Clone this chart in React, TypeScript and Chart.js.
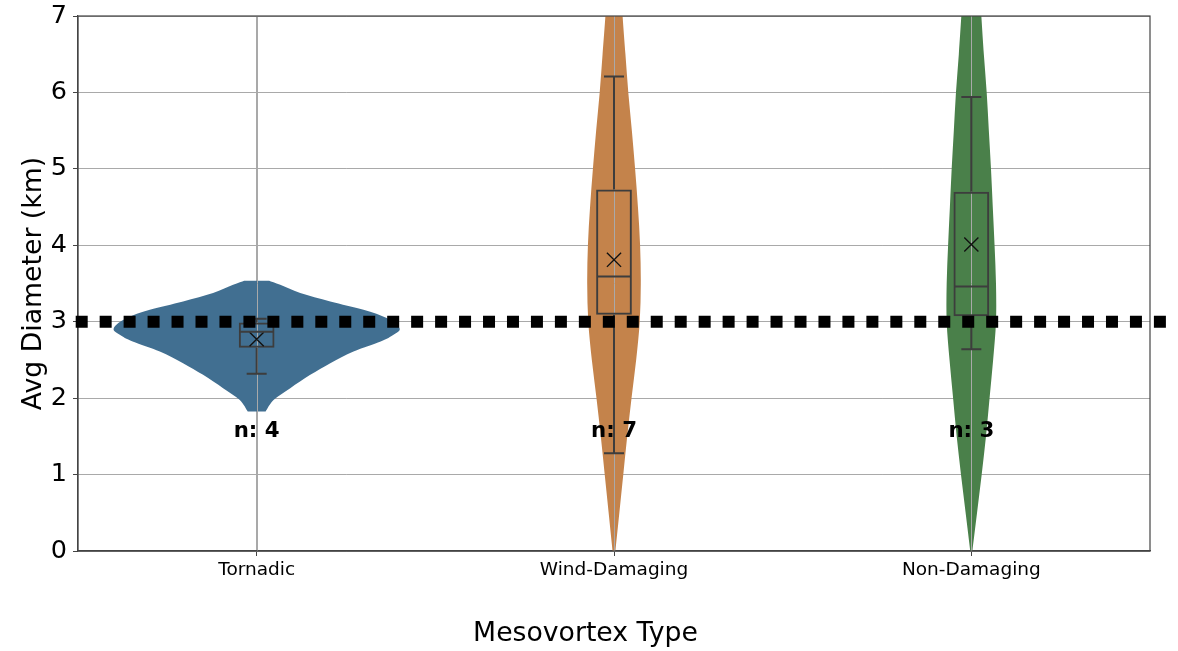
import React, { useEffect, useRef } from 'react';
import { Chart, registerables } from 'chart.js';

Chart.register(...registerables);

// ---------- data ----------
const categories = ['Tornadic', 'Wind-Damaging', 'Non-Damaging'];
const sampleCounts = [4, 7, 3];
const whiskerLow = [2.32, 1.28, 2.64];
const quartile1 = [2.66, 3.09, 3.07];
const medians = [2.87, 3.59, 3.46];
const quartile3 = [2.99, 4.73, 4.7];
const whiskerHigh = [3.04, 6.21, 5.94];
const means = [2.77, 3.81, 4.01];
const referenceValue = 3;
const countLabelValue = 1.49;
const yTickValues = [0, 1, 2, 3, 4, 5, 6, 7];
const xAxisTitle = 'Mesovortex Type';
const yAxisTitle = 'Avg Diameter (km)';

// violin outlines: value along y, half-width in category units
const tornadicProfileY = [1.824, 1.978, 2.131, 2.305, 2.458, 2.61, 2.741, 2.829, 2.916, 3.047, 3.156, 3.265, 3.375, 3.483, 3.536];
const tornadicProfileW = [0.025, 0.048, 0.094, 0.15, 0.206, 0.271, 0.347, 0.383, 0.4, 0.364, 0.299, 0.206, 0.122, 0.066, 0.035];
const windProfileY = [0, 0.5, 1, 1.5, 2, 2.5, 3, 3.5, 4, 4.5, 5, 5.5, 6, 6.5, 7, 7.3];
const windProfileW = [0.004, 0.015, 0.026, 0.037, 0.049, 0.062, 0.072, 0.075, 0.073, 0.067, 0.059, 0.05, 0.04, 0.032, 0.024, 0.02];
const nonDamProfileY = [0, 0.5, 1, 1.5, 2, 2.5, 3, 3.5, 4, 4.5, 5, 5.5, 6, 6.5, 7, 7.3];
const nonDamProfileW = [0.003, 0.016, 0.029, 0.041, 0.051, 0.061, 0.069, 0.069, 0.065, 0.06, 0.055, 0.049, 0.043, 0.035, 0.028, 0.024];

const violinProfilesY = [tornadicProfileY, windProfileY, nonDamProfileY];
const violinProfilesW = [tornadicProfileW, windProfileW, nonDamProfileW];
const violinColors = ['#416f91', '#c4834b', '#4a804a'];

const FONT = "'DejaVu Sans', 'Liberation Sans', sans-serif";
const BOX_COLOR = '#3d3d3d';
const SPINE_COLOR = '#444444';
const GRID_COLOR = '#a9a9a9';

type Pt = { x: number; y: number };

function curveThrough(ctx: CanvasRenderingContext2D, pts: Pt[]) {
  for (let k = 0; k < pts.length - 1; k++) {
    const p0 = pts[k - 1] || pts[k];
    const p1 = pts[k];
    const p2 = pts[k + 1];
    const p3 = pts[k + 2] || p2;
    ctx.bezierCurveTo(
      p1.x + (p2.x - p0.x) / 6,
      p1.y + (p2.y - p0.y) / 6,
      p2.x - (p3.x - p1.x) / 6,
      p2.y - (p3.y - p1.y) / 6,
      p2.x,
      p2.y
    );
  }
}

const violinPlugin = {
  id: 'violinPlugin',
  beforeDatasetsDraw(chart: any) {
    const { ctx, chartArea, scales } = chart;
    const xs = scales.x;
    const ys = scales.y;
    const unit = xs.getPixelForValue(1) - xs.getPixelForValue(0);
    ctx.save();
    ctx.beginPath();
    ctx.rect(chartArea.left, chartArea.top, chartArea.right - chartArea.left, chartArea.bottom - chartArea.top);
    ctx.clip();
    categories.forEach((_, i) => {
      const cx = xs.getPixelForValue(i);
      const py = violinProfilesY[i];
      const pw = violinProfilesW[i];
      const right: Pt[] = py.map((v, k) => ({ x: cx + pw[k] * unit, y: ys.getPixelForValue(v) }));
      const left: Pt[] = py.map((v, k) => ({ x: cx - pw[k] * unit, y: ys.getPixelForValue(v) })).reverse();
      ctx.beginPath();
      ctx.moveTo(right[0].x, right[0].y);
      curveThrough(ctx, right);
      ctx.lineTo(left[0].x, left[0].y);
      curveThrough(ctx, left);
      ctx.closePath();
      ctx.fillStyle = violinColors[i];
      ctx.fill();
    });
    ctx.restore();

    // vertical grid lines visible over violins
    ctx.save();
    ctx.strokeStyle = GRID_COLOR;
    ctx.lineWidth = 1;
    categories.forEach((_, i) => {
      const cx = Math.round(xs.getPixelForValue(i)) + 0.5;
      ctx.beginPath();
      ctx.moveTo(cx, chartArea.top);
      ctx.lineTo(cx, chartArea.bottom);
      ctx.stroke();
    });
    ctx.restore();

    // frame
    ctx.save();
    ctx.strokeStyle = SPINE_COLOR;
    ctx.lineWidth = 1.2;
    ctx.strokeRect(chartArea.left, chartArea.top, chartArea.right - chartArea.left, chartArea.bottom - chartArea.top);
    ctx.restore();
  },
  afterDatasetsDraw(chart: any) {
    const { ctx, chartArea, scales } = chart;
    const xs = scales.x;
    const ys = scales.y;
    const unit = xs.getPixelForValue(1) - xs.getPixelForValue(0);
    const capHalf = 0.028 * unit;
    const boxHalf = 0.05 * unit;
    ctx.save();
    ctx.strokeStyle = BOX_COLOR;
    ctx.lineWidth = 2;
    categories.forEach((_, i) => {
      const cx = xs.getPixelForValue(i);
      const yLow = ys.getPixelForValue(whiskerLow[i]);
      const yQ1 = ys.getPixelForValue(quartile1[i]);
      const yQ3 = ys.getPixelForValue(quartile3[i]);
      const yHigh = ys.getPixelForValue(whiskerHigh[i]);
      const yMed = ys.getPixelForValue(medians[i]);
      ctx.beginPath();
      ctx.moveTo(cx, yQ3);
      ctx.lineTo(cx, yHigh);
      ctx.moveTo(cx - capHalf, yHigh);
      ctx.lineTo(cx + capHalf, yHigh);
      ctx.moveTo(cx, yQ1);
      ctx.lineTo(cx, yLow);
      ctx.moveTo(cx - capHalf, yLow);
      ctx.lineTo(cx + capHalf, yLow);
      ctx.moveTo(cx - boxHalf + 1, yMed);
      ctx.lineTo(cx + boxHalf - 1, yMed);
      ctx.stroke();
    });
    ctx.restore();

    // count labels
    ctx.save();
    ctx.fillStyle = '#000';
    ctx.font = `bold 21.3px ${FONT}`;
    ctx.textAlign = 'center';
    ctx.textBaseline = 'alphabetic';
    categories.forEach((_, i) => {
      ctx.fillText(`n: ${sampleCounts[i]}`, xs.getPixelForValue(i), ys.getPixelForValue(countLabelValue));
    });
    ctx.restore();

    // reference dotted line
    const yRef = ys.getPixelForValue(referenceValue);
    ctx.save();
    ctx.strokeStyle = '#000';
    ctx.lineWidth = 12;
    ctx.lineCap = 'butt';
    ctx.setLineDash([12, 11.96]);
    ctx.beginPath();
    ctx.moveTo(chartArea.left - 2.3, yRef);
    ctx.lineTo(chartArea.right + 16.5, yRef);
    ctx.stroke();
    ctx.restore();
  },
  afterDraw(chart: any) {
    // figure-centred x axis title
    const { ctx } = chart;
    ctx.save();
    ctx.fillStyle = '#000';
    ctx.font = `26.7px ${FONT}`;
    ctx.textAlign = 'center';
    ctx.textBaseline = 'middle';
    ctx.fillText(xAxisTitle, chart.width / 2 - 3.5, chart.height - 17);
    ctx.restore();
  },
};

export default function App() {
  const canvasRef = useRef<HTMLCanvasElement | null>(null);

  useEffect(() => {
    if (!canvasRef.current) return;
    const chart = new Chart(canvasRef.current, {
      type: 'bar',
      data: {
        labels: categories,
        datasets: [
          {
            type: 'line',
            label: 'Mean',
            data: means,
            showLine: false,
            pointStyle: 'crossRot',
            pointRadius: 10,
            pointBorderColor: '#111',
            pointBorderWidth: 1.4,
            pointBackgroundColor: 'transparent',
          } as any,
          {
            type: 'bar',
            label: 'IQR',
            data: quartile1.map((q, i) => [q, quartile3[i]]),
            backgroundColor: 'rgba(0,0,0,0)',
            borderColor: BOX_COLOR,
            borderWidth: 2,
            borderSkipped: false,
            categoryPercentage: 1,
            barPercentage: 0.1,
          } as any,
        ],
      },
      options: {
        responsive: false,
        animation: false,
        events: [],
        layout: { padding: { top: 16, right: 28, bottom: 0, left: 0 } },
        plugins: {
          legend: { display: false },
          tooltip: { enabled: false },
        },
        scales: {
          x: {
            type: 'category',
            offset: true,
            grid: {
              offset: false,
              color: GRID_COLOR,
              lineWidth: 1,
              drawTicks: true,
              tickLength: 5,
              tickColor: SPINE_COLOR,
            },
            border: { display: true, color: SPINE_COLOR, width: 1.2 },
            ticks: { color: '#000', font: { family: FONT, size: 18.5 }, padding: 3 },
            title: { display: false },
            afterFit: (scale: any) => {
              scale.height = 100;
              scale.paddingLeft = 0;
              scale.paddingRight = 0;
            },
          },
          y: {
            type: 'linear',
            min: 0,
            max: 7,
            afterBuildTicks: (scale: any) => {
              scale.ticks = yTickValues.map((v) => ({ value: v }));
            },
            grid: {
              color: GRID_COLOR,
              lineWidth: 1,
              drawTicks: true,
              tickLength: 5,
              tickColor: SPINE_COLOR,
            },
            border: { display: true, color: SPINE_COLOR, width: 1.2 },
            ticks: { color: '#000', font: { family: FONT, size: 25.5 }, padding: 6 },
            title: {
              display: true,
              text: yAxisTitle,
              color: '#000',
              font: { family: FONT, size: 26.7 },
              padding: { top: 18, bottom: 0 },
            },
            afterFit: (scale: any) => {
              scale.width = 78;
              scale.paddingTop = 0;
              scale.paddingBottom = 0;
            },
          },
        },
      },
      plugins: [violinPlugin],
    });
    return () => chart.destroy();
  }, []);

  return (
    <div style={{ position: 'absolute', left: 0, top: 0, width: 1178, height: 651, background: '#fff' }}>
      <canvas ref={canvasRef} width={1178} height={651} style={{ display: 'block' }} />
    </div>
  );
}
